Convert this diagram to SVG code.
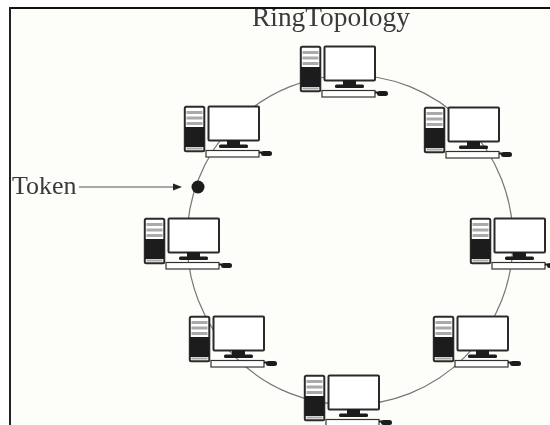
<svg xmlns="http://www.w3.org/2000/svg" width="550" height="425" viewBox="0 0 550 425">
<style>
text{font-family:"Liberation Serif","Times New Roman",serif;fill:#3a3a3a}
.k{fill:#1a1a1a}
.w{fill:#fff;stroke:#2a2a2a;stroke-width:2}
.t{fill:#fff;stroke:#333;stroke-width:1.200}
.g{fill:#aaa}
</style>
<defs>
<filter id="b" x="-5%" y="-5%" width="110%" height="110%"><feGaussianBlur stdDeviation="0.55"/></filter>
<symbol id="pc" overflow="visible">
<rect class="w" x="0.8" y="0.8" width="19.5" height="44.500" rx="1.5"/>
<rect class="g" x="2.5" y="5" width="16" height="3"/>
<rect class="g" x="2.5" y="10.5" width="16" height="3"/>
<rect class="g" x="2.5" y="16" width="16" height="3"/>
<rect class="k" x="1" y="21" width="19" height="20"/>
<rect class="g" x="2.5" y="41.5" width="16" height="2"/>
<rect class="w" x="24.5" y="0.5" width="50.500" height="34" rx="1"/>
<rect class="k" x="43" y="34" width="13" height="5"/>
<rect class="k" x="35" y="38.5" width="29" height="3.5" rx="1.5"/>
<rect class="t" x="22" y="44.500" width="53" height="6.500"/>
<path class="k" d="M75 45.500h3v2h-3z"/>
<rect class="k" x="77" y="45" width="11" height="5" rx="2.500"/>
</symbol>
</defs>
<rect width="550" height="425" fill="#fff"/>
<rect x="10" y="8" width="540" height="417" fill="#fdfdf9"/>
<g id="connectors" filter="url(#b)">
<ellipse cx="350" cy="240" rx="163" ry="165" fill="none" stroke="#777" stroke-width="1.200"/>
<path d="M79 187H174" fill="none" stroke="#555" stroke-width="1.200"/>
<path d="M182 187L173 183.500V190.500Z" fill="#222"/>
</g>
<g filter="url(#b)">
<g id="pc-top"><use href="#pc" x="300" y="46"/></g>
<g id="pc-upper-right"><use href="#pc" x="424" y="107"/></g>
<g id="pc-right"><use href="#pc" x="470" y="218"/></g>
<g id="pc-lower-right"><use href="#pc" x="433" y="316"/></g>
<g id="pc-bottom"><use href="#pc" x="304" y="375"/></g>
<g id="pc-lower-left"><use href="#pc" x="189" y="316"/></g>
<g id="pc-left"><use href="#pc" x="144" y="218"/></g>
<g id="pc-upper-left"><use href="#pc" x="184" y="106"/></g>
<g id="token-dot"><circle cx="198" cy="187" r="6.500" fill="#1a1a1a"/></g>
</g>
<g id="labels">
<text x="252" y="26" font-size="27.400">RingTopology</text>
<text x="12" y="194" font-size="26">Token</text>
</g>
<g id="frame">
<rect x="0" y="0" width="550" height="7" fill="#fff"/>
<path d="M9 8H550" stroke="#111" stroke-width="2.200"/>
<path d="M10 7V425" stroke="#222" stroke-width="2"/>
</g>
</svg>
